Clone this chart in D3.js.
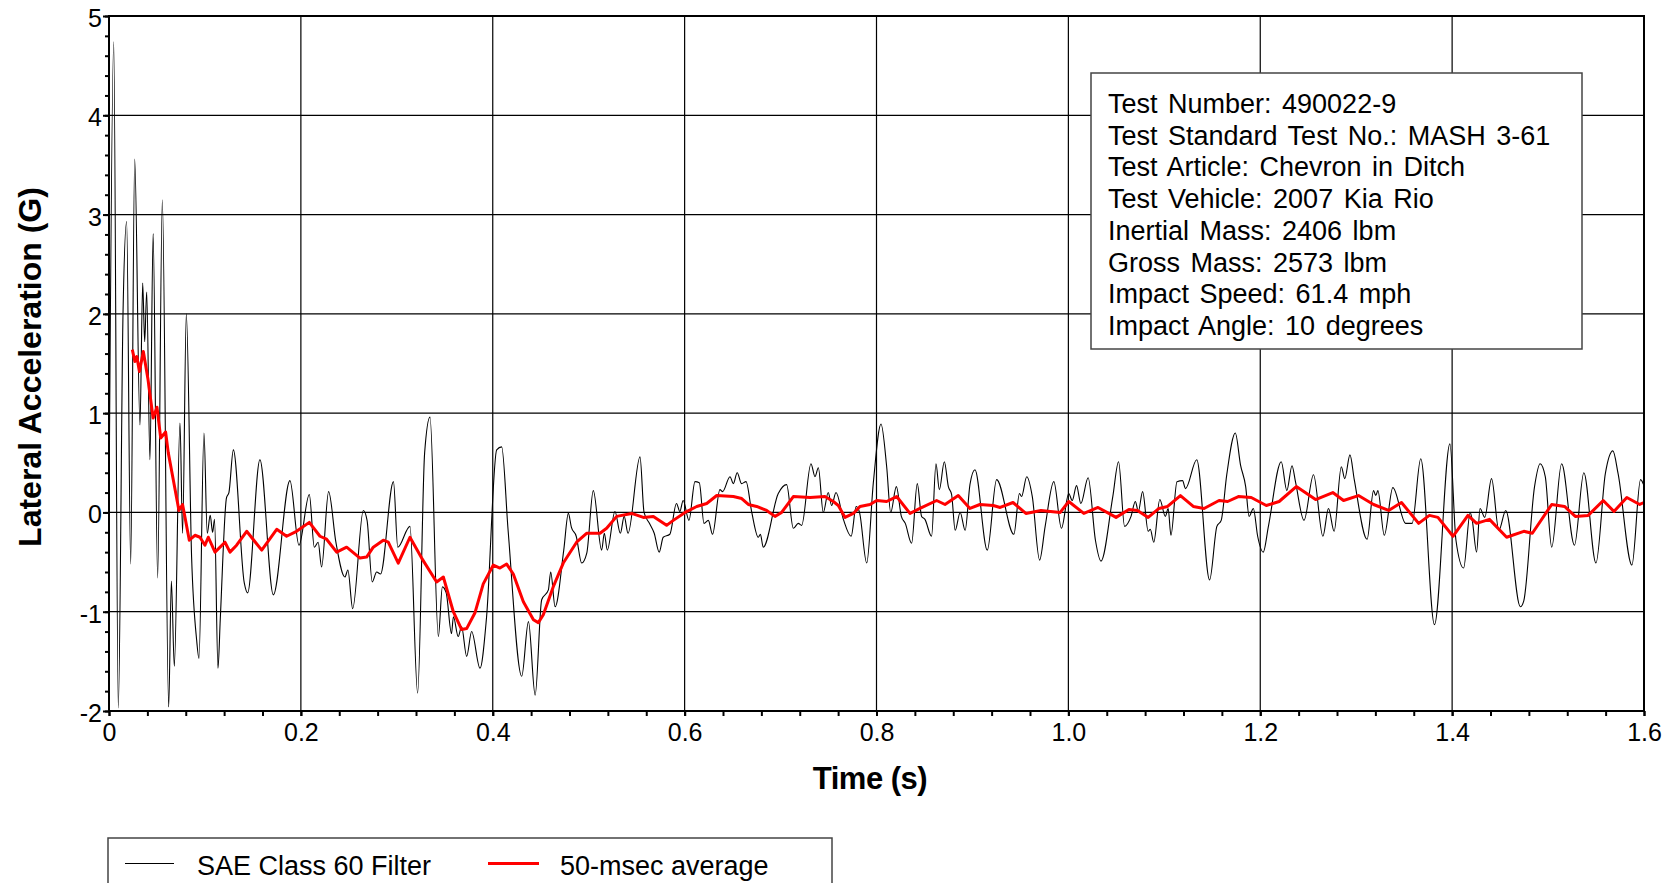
<!DOCTYPE html>
<html>
<head>
<meta charset="utf-8">
<script src="https://cdn.jsdelivr.net/npm/d3@7"></script>
<style>
  html, body { margin: 0; padding: 0; background: #fff; }
  svg { display: block; }
  text { font-family: "Liberation Sans", Arial, sans-serif; fill: #000; }
</style>
</head>
<body>
<svg id="chart" width="1673" height="883"></svg>
<script>
// ---------------- DATA ----------------
const xTickValues = [0, 0.2, 0.4, 0.6, 0.8, 1.0, 1.2, 1.4, 1.6];
const xTickLabels = ["0", "0.2", "0.4", "0.6", "0.8", "1.0", "1.2", "1.4", "1.6"];
const yTickValues = [5, 4, 3, 2, 1, 0, -1, -2];
const yTickLabels = ["5", "4", "3", "2", "1", "0", "-1", "-2"];

const xTitle = "Time (s)";
const yTitle = "Lateral Acceleration (G)";
const seriesNames = ["SAE Class 60 Filter", "50-msec average"];

const infoLines = [
  "Test Number: 490022-9",
  "Test Standard Test No.: MASH 3-61",
  "Test Article: Chevron in Ditch",
  "Test Vehicle: 2007 Kia Rio",
  "Inertial Mass: 2406 lbm",
  "Gross Mass: 2573 lbm",
  "Impact Speed: 61.4 mph",
  "Impact Angle: 10 degrees"
];

// SAE Class 60 filtered signal (read at peaks / valleys)
const filtT = [
  0.0000,0.0049,0.0097,0.0146,0.0184,0.0226,0.0268,0.0323,0.0351,0.0372,0.0393,0.0427,0.0460,0.0507,0.0556,
  0.0622,0.0650,0.0681,0.0740,0.0767,0.0806,0.0861,0.0913,0.0938,0.0990,0.1024,0.1055,0.1080,0.1100,0.1136,
  0.1160,0.1225,0.1250,0.1296,0.1410,0.1445,0.1573,0.1713,0.1886,0.1980,0.2088,0.2140,0.2180,0.2216,0.2289,
  0.2365,0.2459,0.2490,0.2540,0.2651,0.2690,0.2744,0.2790,0.2830,0.2965,0.3010,0.3137,0.3217,0.3290,0.3346,
  0.3433,0.3475,0.3515,0.3570,0.3590,0.3640,0.3675,0.3728,0.3780,0.3867,0.3935,0.4041,0.4093,0.4160,0.4302,
  0.4372,0.4442,0.4510,0.4580,0.4604,0.4650,0.4740,0.4788,0.4820,0.4870,0.4927,0.4980,0.5048,0.5135,0.5163,
  0.5194,0.5274,0.5330,0.5370,0.5410,0.5535,0.5577,0.5633,0.5683,0.5735,0.5777,0.5846,0.5915,0.5950,0.5985,
  0.6045,0.6108,0.6153,0.6202,0.6247,0.6291,0.6368,0.6396,0.6473,0.6508,0.6548,0.6593,0.6640,0.6700,0.6768,
  0.6790,0.6819,0.6976,0.7063,0.7133,0.7185,0.7220,0.7317,0.7359,0.7394,0.7445,0.7497,0.7532,0.7578,0.7655,
  0.7736,0.7788,0.7823,0.7898,0.7967,0.8047,0.8106,0.8148,0.8207,0.8259,0.8300,0.8366,0.8425,0.8470,0.8505,
  0.8574,0.8620,0.8655,0.8707,0.8749,0.8783,0.8820,0.8872,0.8924,0.8974,0.9026,0.9155,0.9252,0.9432,0.9490,
  0.9512,0.9566,0.9624,0.9700,0.9758,0.9848,0.9928,1.0004,1.0040,1.0085,1.0130,1.0206,1.0282,1.0340,1.0463,
  1.0523,1.0586,1.0653,1.0698,1.0729,1.0774,1.0832,1.0854,1.0890,1.0953,1.1011,1.1040,1.1069,1.1132,1.1190,
  1.1221,1.1338,1.1472,1.1548,1.1593,1.1651,1.1740,1.1794,1.1848,1.1884,1.1928,1.1973,1.2031,1.2085,1.2219,
  1.2277,1.2331,1.2367,1.2456,1.2555,1.2653,1.2711,1.2770,1.2845,1.2881,1.2935,1.2980,1.3114,1.3181,1.3204,
  1.3226,1.3293,1.3382,1.3516,1.3583,1.3673,1.3816,1.3977,1.4040,1.4120,1.4188,1.4210,1.4255,1.4291,1.4340,
  1.4411,1.4487,1.4559,1.4711,1.4747,1.4859,1.4917,1.4971,1.5038,1.5141,1.5275,1.5373,1.5499,1.5597,1.5676,
  1.5730,1.5874,1.5964,1.6000
];
const filtV = [
  0.00,4.74,-1.97,2.00,2.93,-0.52,3.56,0.88,2.31,1.72,2.22,0.53,2.81,-0.66,3.15,
  -1.96,-0.69,-1.55,0.90,-0.21,2.00,-0.45,-1.28,-1.47,0.80,-0.21,-0.03,-0.20,-0.07,-1.57,
  -1.07,0.15,0.20,0.63,-0.71,-0.81,0.53,-0.83,0.32,-0.33,0.18,-0.35,-0.30,-0.55,0.21,
  -0.30,-0.65,-0.58,-0.97,0.02,-0.08,-0.70,-0.60,-0.62,0.31,-0.35,-0.14,-1.82,0.60,0.96,
  -1.25,-0.75,-0.81,-1.22,-1.05,-1.25,-1.15,-1.45,-1.20,-1.57,-1.06,0.63,0.66,-0.18,-1.65,
  -1.10,-1.84,-0.88,-0.78,-0.60,-0.95,-0.38,-0.01,-0.15,-0.24,-0.51,-0.41,0.22,-0.38,-0.21,
  -0.38,0.01,-0.21,-0.04,-0.21,0.56,0.00,-0.11,-0.21,-0.40,-0.25,-0.22,0.09,0.01,0.12,
  -0.08,0.31,0.30,-0.11,-0.08,-0.22,0.23,0.21,0.36,0.29,0.40,0.29,0.31,0.00,-0.25,
  -0.22,-0.35,0.19,0.28,-0.16,-0.11,-0.13,0.49,0.36,0.45,0.00,0.20,0.07,0.20,-0.07,
  -0.24,0.06,0.00,-0.51,0.30,0.89,0.46,0.00,0.26,-0.04,-0.11,-0.31,0.29,-0.04,-0.07,
  -0.24,0.49,0.23,0.51,0.26,0.18,-0.18,0.00,-0.18,0.28,0.43,-0.38,0.33,-0.22,0.19,
  0.16,0.36,0.16,-0.48,-0.14,0.31,-0.16,0.19,0.12,0.27,0.09,0.35,-0.28,-0.49,0.16,
  0.51,-0.14,-0.04,0.11,0.01,0.21,-0.19,-0.17,-0.30,0.13,-0.04,0.04,-0.23,0.31,0.32,
  0.24,0.53,-0.68,-0.14,-0.08,0.38,0.80,0.48,0.26,-0.04,0.04,-0.24,-0.40,-0.14,0.51,
  0.22,0.47,0.31,-0.08,0.38,-0.24,0.04,-0.19,0.46,0.34,0.58,0.33,-0.27,0.22,0.17,
  0.22,-0.23,0.25,-0.11,-0.11,0.54,-1.13,0.69,-0.28,-0.56,0.00,-0.08,-0.40,0.04,-0.05,
  0.34,-0.18,0.02,-0.95,-0.89,0.26,0.49,0.36,-0.35,0.49,-0.33,0.40,-0.51,0.39,0.62,
  0.39,-0.53,0.33,0.27
];

// 50-msec moving average
const avgT = [
  0.0243,0.0270,0.0290,0.0317,0.0358,0.0405,0.0460,0.0500,0.0539,0.0590,0.0618,0.0670,0.0729,0.0767,0.0837,
  0.0896,0.0948,0.1000,0.1035,0.1105,0.1209,0.1261,0.1330,0.1435,0.1592,0.1748,0.1851,0.1955,0.2088,0.2199,
  0.2268,0.2373,0.2477,0.2616,0.2685,0.2755,0.2859,0.2911,0.3015,0.3137,0.3259,0.3415,0.3485,0.3589,0.3676,
  0.3728,0.3815,0.3901,0.4006,0.4075,0.4145,0.4214,0.4319,0.4424,0.4475,0.4527,0.4630,0.4735,0.4874,0.4978,
  0.5118,0.5187,0.5292,0.5448,0.5570,0.5674,0.5812,0.5882,0.6004,0.6126,0.6230,0.6335,0.6508,0.6595,0.6664,
  0.6751,0.6855,0.6942,0.7011,0.7133,0.7307,0.7463,0.7550,0.7602,0.7672,0.7759,0.7828,0.7932,0.8002,0.8106,
  0.8210,0.8349,0.8453,0.8627,0.8714,0.8852,0.8974,0.9078,0.9217,0.9289,0.9423,0.9557,0.9714,0.9915,1.0004,
  1.0161,1.0309,1.0497,1.0631,1.0720,1.0832,1.0944,1.1034,1.1168,1.1302,1.1414,1.1571,1.1660,1.1772,1.1906,
  1.2063,1.2197,1.2376,1.2577,1.2756,1.2868,1.3024,1.3181,1.3338,1.3472,1.3651,1.3763,1.3852,1.4009,1.4165,
  1.4255,1.4389,1.4568,1.4747,1.4836,1.5038,1.5172,1.5284,1.5418,1.5575,1.5687,1.5821,1.5955,1.6000
];
const avgV = [
  1.64,1.52,1.57,1.42,1.62,1.35,0.95,1.06,0.75,0.81,0.60,0.33,0.02,0.08,-0.28,
  -0.23,-0.25,-0.33,-0.25,-0.40,-0.30,-0.40,-0.33,-0.19,-0.38,-0.17,-0.24,-0.19,-0.10,-0.24,
  -0.27,-0.40,-0.35,-0.46,-0.45,-0.35,-0.28,-0.30,-0.51,-0.25,-0.46,-0.70,-0.65,-1.00,-1.18,
  -1.17,-1.01,-0.72,-0.53,-0.56,-0.52,-0.62,-0.90,-1.08,-1.11,-1.03,-0.75,-0.51,-0.30,-0.21,
  -0.21,-0.16,-0.04,-0.01,-0.05,-0.04,-0.13,-0.08,0.00,0.06,0.09,0.17,0.16,0.14,0.08,
  0.06,0.02,-0.04,0.00,0.16,0.15,0.16,0.11,0.07,-0.05,-0.01,0.06,0.08,0.12,0.11,
  0.16,-0.01,0.04,0.12,0.08,0.17,0.04,0.08,0.07,0.05,0.10,-0.01,0.02,0.00,0.11,
  -0.01,0.05,-0.05,0.03,0.02,-0.05,0.04,0.06,0.17,0.06,0.04,0.12,0.11,0.16,0.15,
  0.07,0.11,0.26,0.13,0.20,0.12,0.17,0.08,0.02,0.10,-0.11,-0.03,-0.05,-0.24,-0.03,
  -0.11,-0.07,-0.25,-0.19,-0.21,0.08,0.06,-0.04,-0.03,0.12,0.01,0.15,0.08,0.10
];

// ---------------- CHART ----------------
const svg = d3.select("#chart");
const W = 1673, H = 883;
const plot = { left: 109, right: 1644, top: 16, bottom: 711 };

const x = d3.scaleLinear().domain([0, 1.6]).range([plot.left, plot.right]);
const y = d3.scaleLinear().domain([-2, 5]).range([plot.bottom, plot.top]);

svg.append("rect").attr("width", W).attr("height", H).attr("fill", "#fff");

// grid
const grid = svg.append("g").attr("stroke", "#000").attr("stroke-width", 1.2);
grid.selectAll("line.v").data(xTickValues.slice(1, -1)).join("line")
  .attr("x1", d => x(d)).attr("x2", d => x(d))
  .attr("y1", plot.top).attr("y2", plot.bottom);
grid.selectAll("line.h").data(yTickValues.slice(1, -1)).join("line")
  .attr("x1", plot.left).attr("x2", plot.right)
  .attr("y1", d => y(d)).attr("y2", d => y(d));

// info box (drawn over grid)
const box = { x: 1091, y: 73, w: 491, h: 276 };
svg.append("rect").attr("x", box.x).attr("y", box.y).attr("width", box.w).attr("height", box.h)
  .attr("fill", "#fff").attr("stroke", "#444").attr("stroke-width", 1.5);
svg.append("g").selectAll("text").data(infoLines).join("text")
  .attr("x", box.x + 17)
  .attr("y", (d, i) => box.y + 40 + i * 31.7)
  .attr("font-size", 27)
  .attr("word-spacing", 3)
  .text(d => d);

// data lines
const filtData = filtT.map((t, i) => [t, filtV[i]]);
const avgData = avgT.map((t, i) => [t, avgV[i]]);

svg.append("path").datum(filtData)
  .attr("fill", "none").attr("stroke", "#000").attr("stroke-width", 1.1)
  .attr("d", d3.line().x(d => x(d[0])).y(d => y(d[1])).curve(d3.curveMonotoneX));

svg.append("path").datum(avgData)
  .attr("fill", "none").attr("stroke", "#ff0000").attr("stroke-width", 3)
  .attr("stroke-linejoin", "round")
  .attr("d", d3.line().x(d => x(d[0])).y(d => y(d[1])));

// frame
svg.append("rect").attr("x", plot.left).attr("y", plot.top)
  .attr("width", plot.right - plot.left).attr("height", plot.bottom - plot.top)
  .attr("fill", "none").attr("stroke", "#000").attr("stroke-width", 2);

// minor ticks
const xMinor = d3.range(0, 41).map(i => i * 0.04).filter(v => v <= 1.6001);
const yMinor = d3.range(0, 36).map(i => -2 + i * 0.2);

const xMinorAxis = svg.append("g").attr("transform", `translate(0,${plot.bottom})`)
  .call(d3.axisBottom(x).tickValues(xMinor).tickSize(5).tickFormat("").tickSizeOuter(0));
xMinorAxis.select(".domain").remove();
xMinorAxis.selectAll("line").attr("stroke-width", 2);

const yMinorAxis = svg.append("g").attr("transform", `translate(${plot.left},0)`)
  .call(d3.axisLeft(y).tickValues(yMinor).tickSize(4).tickFormat("").tickSizeOuter(0));
yMinorAxis.select(".domain").remove();
yMinorAxis.selectAll("line").attr("stroke-width", 2);

// major axes with labels
const xAxis = svg.append("g").attr("transform", `translate(0,${plot.bottom})`)
  .call(d3.axisBottom(x).tickValues(xTickValues).tickSize(5).tickPadding(7)
    .tickFormat((d, i) => xTickLabels[i]).tickSizeOuter(0));
xAxis.select(".domain").remove();
xAxis.selectAll("line").attr("stroke-width", 2);
xAxis.selectAll("text").attr("font-size", 25).attr("font-family", "Liberation Sans, Arial, sans-serif").attr("fill", "#000");

const yAxis = svg.append("g").attr("transform", `translate(${plot.left},0)`)
  .call(d3.axisLeft(y).tickValues(yTickValues).tickSize(6).tickPadding(1)
    .tickFormat((d, i) => yTickLabels[i]).tickSizeOuter(0));
yAxis.select(".domain").remove();
yAxis.selectAll("line").attr("stroke-width", 2);
yAxis.selectAll("text").attr("font-size", 25).attr("dy", "0.42em")
  .attr("font-family", "Liberation Sans, Arial, sans-serif").attr("fill", "#000");

// axis titles
svg.append("text")
  .attr("x", 870).attr("y", 789)
  .attr("text-anchor", "middle").attr("font-size", 31).attr("font-weight", "bold")
  .attr("letter-spacing", "-0.5")
  .text(xTitle);

svg.append("text")
  .attr("transform", `translate(41,367) rotate(-90)`)
  .attr("text-anchor", "middle").attr("font-size", 32).attr("font-weight", "bold")
  .text(yTitle);

// legend
const lg = svg.append("g");
lg.append("rect").attr("x", 108).attr("y", 838).attr("width", 724).attr("height", 70)
  .attr("fill", "#fff").attr("stroke", "#444").attr("stroke-width", 1.5);
lg.append("line").attr("x1", 125).attr("x2", 174).attr("y1", 863.5).attr("y2", 863.5)
  .attr("stroke", "#000").attr("stroke-width", 1.1);
lg.append("text").attr("x", 197).attr("y", 875).attr("font-size", 27).text(seriesNames[0]);
lg.append("line").attr("x1", 488).attr("x2", 539).attr("y1", 863.5).attr("y2", 863.5)
  .attr("stroke", "#ff0000").attr("stroke-width", 3);
lg.append("text").attr("x", 560).attr("y", 875).attr("font-size", 27).text(seriesNames[1]);
</script>
</body>
</html>
